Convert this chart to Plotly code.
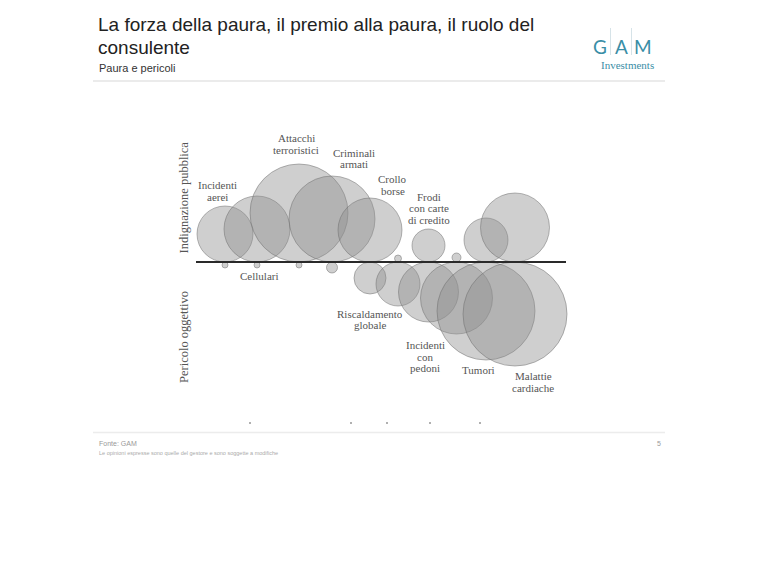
import plotly.graph_objects as go

W, H = 765, 572

# ---- data -------------------------------------------------------------
risks = ["Incidenti aerei", "Cellulari", "Attacchi terroristici", "Criminali armati",
         "Crollo borse", "Riscaldamento globale", "Frodi con carte di credito",
         "Incidenti con pedoni", "Tumori", "Malattie cardiache"]
position = [29, 61, 103, 136, 174, 202, 232.5, 260.5, 290, 319]
outrage_r = [28, 33, 49, 43, 32, 3.5, 16.5, 4.5, 22, 34.5]   # Indignazione pubblica
danger_r = [3, 3, 3, 5.5, 16, 22, 30, 36, 49, 52]            # Pericolo oggettivo

label_lines = [["Incidenti", "aerei"], ["Cellulari"], ["Attacchi", "terroristici"],
               ["Criminali", "armati"], ["Crollo", "borse"], ["Riscaldamento", "globale"],
               ["Frodi", "con carte", "di credito"], ["Incidenti", "con", "pedoni"],
               ["Tumori"], ["Malattie", "cardiache"]]
label_x = [21, 63, 100, 158, 196.5, 174, 233, 229, 282, 337]
label_y = [77, -14, 124, 109.5, 83, -51.5, 65.5, -83, -108, -114]

axis_labels = ["Indignazione pubblica", "Pericolo oggettivo"]
baseline_len = 370
tick_marks_x = [54, 155, 191, 234, 284]

# ---- figure -----------------------------------------------------------
fig = go.Figure()

fig.add_trace(go.Scatter(
    x=position + position,
    y=outrage_r + [-d for d in danger_r],
    mode="markers",
    marker=dict(size=6, opacity=0),
    text=[r + " – indignazione" for r in risks] + [r + " – pericolo" for r in risks],
    hoverinfo="text", showlegend=False))

fig.add_trace(go.Scatter(
    x=tick_marks_x, y=[-161] * len(tick_marks_x), mode="markers",
    marker=dict(size=2, color="#b0b0b0", symbol="square"),
    hoverinfo="skip", showlegend=False))

shapes = []
circ_fill = "rgba(140,140,140,0.42)"
circ_line = dict(color="rgba(110,110,110,0.5)", width=1)
for x, r in zip(position, outrage_r):
    shapes.append(dict(type="circle", xref="x", yref="y", x0=x - r, x1=x + r,
                       y0=0, y1=2 * r, fillcolor=circ_fill, line=circ_line, layer="above"))
for x, r in zip(position, danger_r):
    shapes.append(dict(type="circle", xref="x", yref="y", x0=x - r, x1=x + r,
                       y0=-2 * r, y1=0, fillcolor=circ_fill, line=circ_line, layer="above"))
shapes.append(dict(type="line", xref="x", yref="y", x0=0, x1=baseline_len, y0=0, y1=0,
                   line=dict(color="#2a2a2a", width=2), layer="above"))

def px(x):
    return x / W

def py(y):
    return 1 - y / H

# slide decorations
shapes.append(dict(type="line", xref="paper", yref="paper", x0=px(93), x1=px(665),
                   y0=py(81), y1=py(81), line=dict(color="#e4e4e4", width=1.5)))
shapes.append(dict(type="line", xref="paper", yref="paper", x0=px(93), x1=px(665),
                   y0=py(432.5), y1=py(432.5), line=dict(color="#ececec", width=1.5)))
for lx in (610.5, 631.5):
    shapes.append(dict(type="line", xref="paper", yref="paper", x0=px(lx), x1=px(lx),
                       y0=py(28), y1=py(55), line=dict(color="#d6e3e8", width=1)))

annotations = []
serif = "Liberation Serif"
line_gap = 11.7
for lines, lx, ly in zip(label_lines, label_x, label_y):
    for i, t in enumerate(lines):
        annotations.append(dict(x=lx, y=ly - i * line_gap, xref="x", yref="y", text=t,
                                showarrow=False, xanchor="center", yanchor="middle",
                                font=dict(family=serif, size=11, color="#555555")))

annotations.append(dict(x=px(184), y=py(197.5), xref="paper", yref="paper",
                        xanchor="center", yanchor="middle",
                        text=axis_labels[0], textangle=-90, showarrow=False,
                        font=dict(family=serif, size=12.5, color="#555555")))
annotations.append(dict(x=px(184), y=py(337), xref="paper", yref="paper",
                        xanchor="center", yanchor="middle",
                        text=axis_labels[1], textangle=-90, showarrow=False,
                        font=dict(family=serif, size=12.5, color="#555555")))

sans = "Liberation Sans"
annotations += [
    dict(x=px(96), y=py(24), xref="paper", yref="paper", xanchor="left", yanchor="middle",
         text="La forza della paura, il premio alla paura, il ruolo del", showarrow=False,
         font=dict(family=sans, size=19, color="#222222")),
    dict(x=px(96), y=py(47), xref="paper", yref="paper", xanchor="left", yanchor="middle",
         text="consulente", showarrow=False,
         font=dict(family=sans, size=19, color="#222222")),
    dict(x=px(97), y=py(68), xref="paper", yref="paper", xanchor="left", yanchor="middle",
         text="Paura e pericoli", showarrow=False,
         font=dict(family=sans, size=11, color="#333333")),
    dict(x=px(97), y=py(443), xref="paper", yref="paper", xanchor="left", yanchor="middle",
         text="Fonte: GAM", showarrow=False,
         font=dict(family=sans, size=7, color="#999999")),
    dict(x=px(97), y=py(452.5), xref="paper", yref="paper", xanchor="left", yanchor="middle",
         text="Le opinioni espresse sono quelle del gestore e sono soggette a modifiche",
         showarrow=False, font=dict(family=sans, size=5.5, color="#aaaaaa")),
    dict(x=px(659), y=py(443), xref="paper", yref="paper", xanchor="center", yanchor="middle",
         text="5", showarrow=False, font=dict(family=sans, size=7, color="#999999")),
]
teal = "#3a8ea6"
for letter, lx in zip(["G", "A", "M"], [600, 621, 643]):
    annotations.append(dict(x=px(lx), y=py(46), xref="paper", yref="paper",
                            xanchor="center", yanchor="middle", text=letter, showarrow=False,
                            font=dict(family="Lato", size=19, color=teal)))
annotations.append(dict(x=px(627), y=py(65), xref="paper", yref="paper",
                        xanchor="center", yanchor="middle", text="Investments", showarrow=False,
                        font=dict(family=serif, size=11, color=teal)))

fig.update_layout(
    width=W, height=H, autosize=False,
    margin=dict(l=0, r=0, t=0, b=0),
    paper_bgcolor="white", plot_bgcolor="white",
    xaxis=dict(domain=[176 / W, 576 / W], range=[-20, 380], visible=False, fixedrange=True),
    yaxis=dict(domain=[1 - 430 / H, 1 - 125 / H], range=[-168, 137], visible=False,
               fixedrange=True),
    shapes=shapes, annotations=annotations, showlegend=False,
)

fig.write_html("out.html")
